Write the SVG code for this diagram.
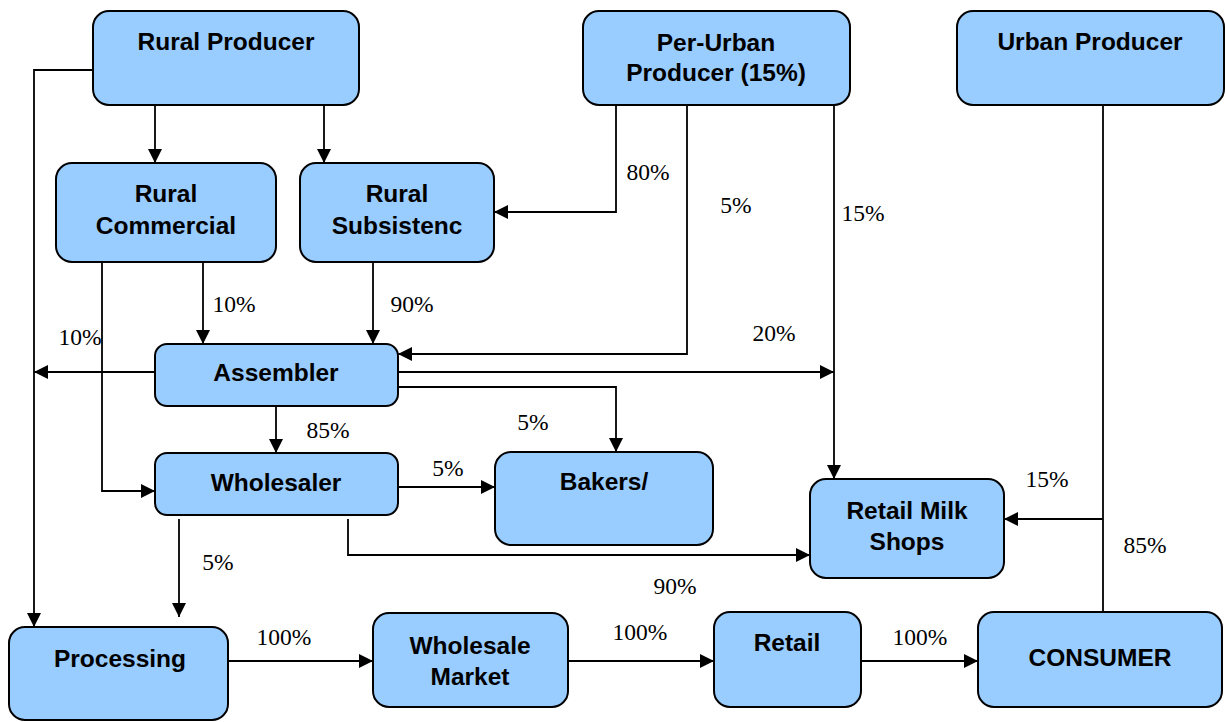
<svg xmlns="http://www.w3.org/2000/svg" width="1225" height="722" viewBox="0 0 1225 722">
<defs>
<marker id="arr" markerUnits="userSpaceOnUse" markerWidth="14" markerHeight="14" refX="14" refY="7" orient="auto">
<path d="M0,0 L14,7 L0,14 z" fill="#000"/>
</marker>
<style>
.box{fill:#99CCFF;stroke:#000;stroke-width:2}
.nt{font-family:"Liberation Sans",Arial,sans-serif;font-weight:bold;font-size:24.5px;fill:#000;text-anchor:middle}
.pl{font-family:"Liberation Serif","Times New Roman",serif;font-size:23.5px;fill:#000;text-anchor:middle}
.c{fill:none;stroke:#000;stroke-width:1.8}
.ca{fill:none;stroke:#000;stroke-width:1.8;marker-end:url(#arr)}
</style>
</defs>
<rect width="1225" height="722" fill="#fff"/>

<g id="connectors">
<path class="ca" d="M93,70 H34 V627"/>
<path class="ca" d="M155,106 V163"/>
<path class="ca" d="M324,106 V163"/>
<path class="ca" d="M616,105 V212 H494"/>
<path class="ca" d="M687,105 V354 H398"/>
<path class="ca" d="M834,105 V479"/>
<path class="c" d="M1103,105 V612"/>
<path class="ca" d="M1103,519 H1004"/>
<path class="ca" d="M203,262 V344"/>
<path class="ca" d="M102,262 V491 H155"/>
<path class="ca" d="M373,262 V344"/>
<path class="ca" d="M155,372 H34"/>
<path class="ca" d="M398,372 H834"/>
<path class="ca" d="M398,387 H616 V452"/>
<path class="ca" d="M276,406 V453"/>
<path class="ca" d="M398,487 H495"/>
<path class="ca" d="M348,519 V555 H810"/>
<path class="ca" d="M179,519 V617"/>
<path class="ca" d="M228,661 H373"/>
<path class="ca" d="M568,661 H714"/>
<path class="ca" d="M861,661 H978"/>
</g>

<g id="labels">
<text class="pl" x="648" y="180">80%</text>
<text class="pl" x="736" y="213">5%</text>
<text class="pl" x="863" y="221">15%</text>
<text class="pl" x="234" y="312">10%</text>
<text class="pl" x="412" y="312">90%</text>
<text class="pl" x="80" y="345">10%</text>
<text class="pl" x="774" y="341">20%</text>
<text class="pl" x="533" y="430">5%</text>
<text class="pl" x="328" y="438">85%</text>
<text class="pl" x="448" y="476">5%</text>
<text class="pl" x="1047" y="487">15%</text>
<text class="pl" x="1145" y="553">85%</text>
<text class="pl" x="218" y="570">5%</text>
<text class="pl" x="675" y="594">90%</text>
<text class="pl" x="284" y="645">100%</text>
<text class="pl" x="640" y="640">100%</text>
<text class="pl" x="920" y="645">100%</text>
</g>

<g id="rural-producer">
<rect class="box" x="93" y="11" width="266" height="94" rx="16"/>
<text class="nt" x="226" y="50">Rural Producer</text>
</g>
<g id="per-urban-producer">
<rect class="box" x="583" y="11" width="267" height="94" rx="16"/>
<text class="nt" x="716" y="51">Per-Urban</text>
<text class="nt" x="716" y="81">Producer (15%)</text>
</g>
<g id="urban-producer">
<rect class="box" x="957" y="11" width="267" height="94" rx="16"/>
<text class="nt" x="1090" y="50">Urban Producer</text>
</g>
<g id="rural-commercial">
<rect class="box" x="56" y="163" width="220" height="99" rx="16"/>
<text class="nt" x="166" y="202">Rural</text>
<text class="nt" x="166" y="234">Commercial</text>
</g>
<g id="rural-subsistenc">
<rect class="box" x="300" y="163" width="194" height="99" rx="16"/>
<text class="nt" x="397" y="202">Rural</text>
<text class="nt" x="397" y="234">Subsistenc</text>
</g>
<g id="assembler">
<rect class="box" x="155" y="344" width="243" height="62" rx="12"/>
<text class="nt" x="276" y="381">Assembler</text>
</g>
<g id="wholesaler">
<rect class="box" x="155" y="453" width="243" height="62" rx="12"/>
<text class="nt" x="276" y="491">Wholesaler</text>
</g>
<g id="bakers">
<rect class="box" x="495" y="452" width="218" height="93" rx="16"/>
<text class="nt" x="604" y="490">Bakers/</text>
</g>
<g id="retail-milk-shops">
<rect class="box" x="810" y="479" width="194" height="99" rx="16"/>
<text class="nt" x="907" y="519">Retail Milk</text>
<text class="nt" x="907" y="550">Shops</text>
</g>
<g id="processing">
<rect class="box" x="9" y="627" width="219" height="93" rx="16"/>
<text class="nt" x="120" y="667">Processing</text>
</g>
<g id="wholesale-market">
<rect class="box" x="373" y="613" width="195" height="94" rx="16"/>
<text class="nt" x="470" y="654">Wholesale</text>
<text class="nt" x="470" y="685">Market</text>
</g>
<g id="retail">
<rect class="box" x="714" y="612" width="147" height="95" rx="16"/>
<text class="nt" x="787" y="651">Retail</text>
</g>
<g id="consumer">
<rect class="box" x="978" y="612" width="244" height="95" rx="16"/>
<text class="nt" x="1100" y="666">CONSUMER</text>
</g>
</svg>
